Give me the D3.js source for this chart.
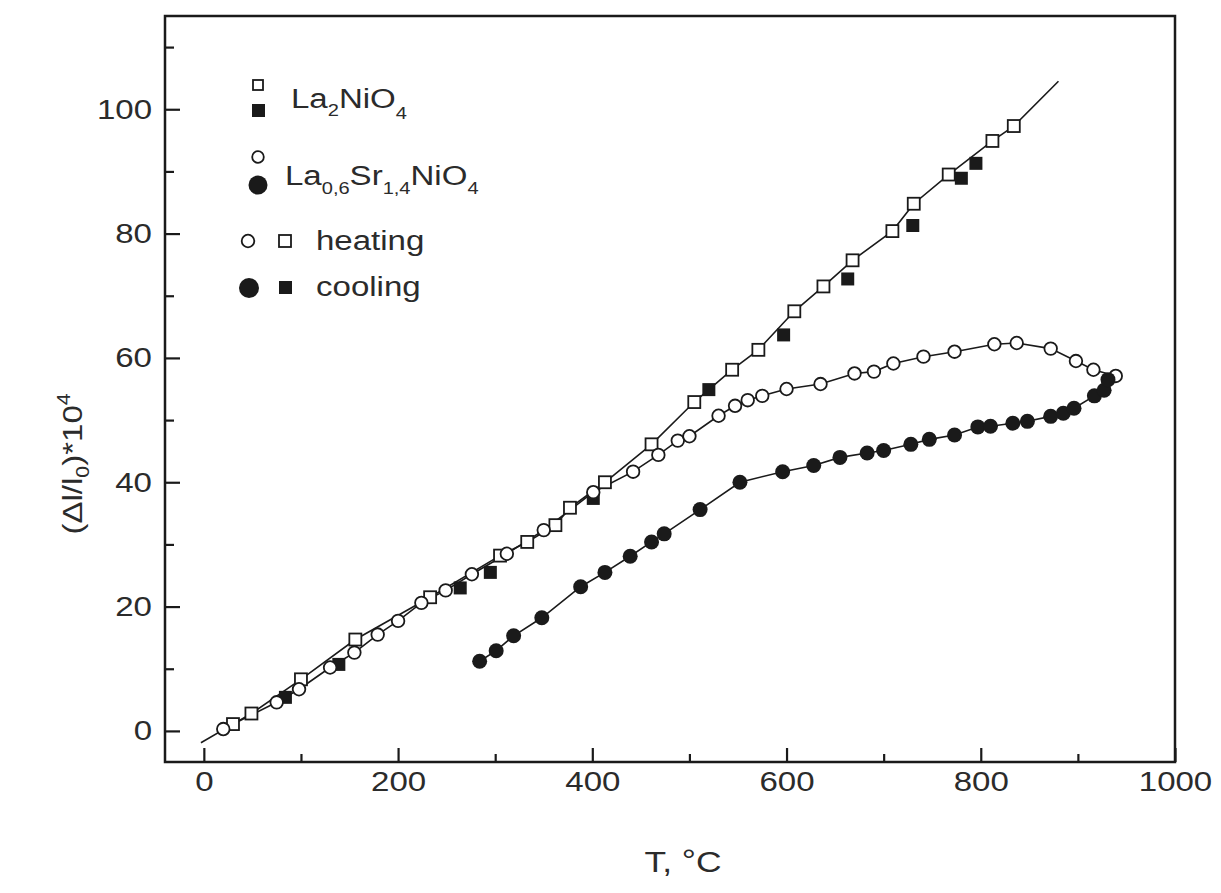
<!DOCTYPE html>
<html><head><meta charset="utf-8">
<script src="https://cdn.jsdelivr.net/npm/d3@7"></script>
<style>
html,body{margin:0;padding:0;background:#fff;}
text{font-family:"Liberation Sans",Arial,sans-serif;fill:#2b2b2b;}
</style></head>
<body><svg id="chart" width="1221" height="893"></svg>
<script>
// La2NiO4 heating (open squares)
const la2HeatT = [30, 49, 100, 156, 233, 305, 333, 362, 377, 413, 461, 505, 544, 571, 608, 638, 668, 709, 731, 767, 812, 834];
const la2HeatV = [1.1, 2.8, 8.3, 14.7, 21.5, 28.2, 30.4, 33.1, 35.9, 40.0, 46.1, 52.9, 58.1, 61.3, 67.5, 71.5, 75.7, 80.4, 84.8, 89.5, 94.9, 97.3];
// La2NiO4 cooling (filled squares)
const la2CoolT = [84, 139, 264, 295, 401, 520, 597, 663, 730, 780, 795];
const la2CoolV = [5.4, 10.7, 23.0, 25.5, 37.4, 54.9, 63.7, 72.7, 81.3, 88.9, 91.3];
// La2NiO4 fit line end points
const la2LineStart = [-3, -1.9];
const la2LineEnd = [880, 104.5];
// La0.6Sr1.4NiO4 heating (open circles)
const lsnHeatT = [20, 75, 98, 130, 155, 179, 200, 224, 249, 276, 312, 350, 401, 442, 468, 488, 500, 530, 547, 560, 575, 600, 635, 670, 690, 710, 741, 773, 814, 837, 872, 898, 916, 939];
const lsnHeatV = [0.3, 4.6, 6.7, 10.2, 12.6, 15.5, 17.7, 20.6, 22.6, 25.2, 28.5, 32.3, 38.4, 41.7, 44.4, 46.7, 47.4, 50.7, 52.3, 53.2, 53.9, 55.0, 55.8, 57.5, 57.8, 59.1, 60.2, 61.0, 62.2, 62.4, 61.5, 59.5, 58.1, 57.1];
// La0.6Sr1.4NiO4 cooling (filled circles)
const lsnCoolT = [284, 301, 319, 348, 388, 413, 439, 461, 474, 511, 552, 596, 628, 655, 683, 700, 728, 747, 773, 797, 810, 833, 848, 872, 885, 896, 917, 927, 931];
const lsnCoolV = [11.2, 12.9, 15.3, 18.2, 23.2, 25.5, 28.1, 30.4, 31.7, 35.6, 40.0, 41.7, 42.7, 44.0, 44.7, 45.1, 46.1, 46.9, 47.6, 48.9, 49.0, 49.5, 49.8, 50.6, 51.1, 51.9, 53.9, 54.8, 56.5];
// ticks
const xTicksMajor = [0, 200, 400, 600, 800, 1000];
const xTicksMinor = [100, 300, 500, 700, 900];
const yTicksMajor = [0, 20, 40, 60, 80, 100];
const yTicksMinor = [10, 30, 50, 70, 90, 110];

const svg = d3.select("#chart");
const L = 165, R = 1175, T = 16, B = 762;
const x = d3.scaleLinear().domain([-40, 1000]).range([L, R]);
const y = d3.scaleLinear().domain([-5, 115]).range([B, T]);
const ink = "#1a1a1a";
const SX = 1.18; // horizontal glyph stretch seen in the reference

function stretch(sel) {
  sel.each(function () {
    const t = d3.select(this);
    const tx = +t.attr("x") || 0, ty = +t.attr("y") || 0;
    t.attr("x", tx / SX).attr("y", ty).attr("transform", `scale(${SX},1)`);
  });
}

const zip = (a, b) => a.map((v, i) => [v, b[i]]);
const la2Heat = zip(la2HeatT, la2HeatV);
const la2Cool = zip(la2CoolT, la2CoolV);
const lsnHeat = zip(lsnHeatT, lsnHeatV);
const lsnCool = zip(lsnCoolT, lsnCoolV);

const line = d3.line().x(d => x(d[0])).y(d => y(d[1]));
const g = svg.append("g");
g.append("path").datum([la2LineStart, ...la2Heat, la2LineEnd])
  .attr("d", line).attr("fill", "none").attr("stroke", ink).attr("stroke-width", 1.6);
g.append("path").datum(lsnHeat)
  .attr("d", line).attr("fill", "none").attr("stroke", ink).attr("stroke-width", 1.6);
g.append("path").datum(lsnCool)
  .attr("d", line).attr("fill", "none").attr("stroke", ink).attr("stroke-width", 1.6);

const sq = 12;
g.selectAll(".sqo").data(la2Heat).enter().append("rect")
  .attr("x", d => x(d[0]) - sq/2).attr("y", d => y(d[1]) - sq/2)
  .attr("width", sq).attr("height", sq)
  .attr("fill", "#fff").attr("stroke", ink).attr("stroke-width", 1.8);
g.selectAll(".sqf").data(la2Cool).enter().append("rect")
  .attr("x", d => x(d[0]) - 6.5).attr("y", d => y(d[1]) - 6.5)
  .attr("width", 13).attr("height", 13)
  .attr("fill", ink);
g.selectAll(".co").data(lsnHeat).enter().append("circle")
  .attr("cx", d => x(d[0])).attr("cy", d => y(d[1])).attr("r", 6.3)
  .attr("fill", "#fff").attr("stroke", ink).attr("stroke-width", 1.8);
g.selectAll(".cf").data(lsnCool).enter().append("circle")
  .attr("cx", d => x(d[0])).attr("cy", d => y(d[1])).attr("r", 7.5)
  .attr("fill", ink);

// frame
svg.append("rect").attr("x", L).attr("y", T).attr("width", R - L).attr("height", B - T)
  .attr("fill", "none").attr("stroke", ink).attr("stroke-width", 2.5);

// axes with inward ticks
const xAxis = svg.append("g").attr("transform", `translate(0,${B})`)
  .call(d3.axisBottom(x).tickValues(xTicksMajor).tickSize(-14).tickPadding(9).tickFormat(d3.format("d")));
const xMinor = svg.append("g").attr("transform", `translate(0,${B})`)
  .call(d3.axisBottom(x).tickValues(xTicksMinor).tickSize(-8).tickFormat(""));
const yAxis = svg.append("g").attr("transform", `translate(${L},0)`)
  .call(d3.axisLeft(y).tickValues(yTicksMajor).tickSize(-15).tickPadding(13).tickFormat(d3.format("d")));
const yMinor = svg.append("g").attr("transform", `translate(${L},0)`)
  .call(d3.axisLeft(y).tickValues(yTicksMinor).tickSize(-9).tickFormat(""));
[xAxis, xMinor, yAxis, yMinor].forEach(a => {
  a.select(".domain").remove();
  a.selectAll(".tick line").attr("stroke", ink).attr("stroke-width", 2.2);
  a.selectAll(".tick text").style("font-size", "28px").attr("fill", "#2b2b2b")
    .style("font-family", "'Liberation Sans', Arial, sans-serif");
});
stretch(xAxis.selectAll(".tick text"));
stretch(yAxis.selectAll(".tick text"));

// axis titles
const xt = svg.append("text").attr("x", 683).attr("y", 872).attr("text-anchor", "middle")
  .style("font-size", "30px");
xt.append("tspan").text("T, ");
xt.append("tspan").text("°").attr("dy", -2);
xt.append("tspan").text("C").attr("dy", 2);
stretch(xt);

const yt = svg.append("text").attr("transform", `translate(82,464) rotate(-90) scale(${SX},1)`)
  .attr("text-anchor", "middle").style("font-size", "28px");
yt.append("tspan").text("(Δl/l");
yt.append("tspan").text("0").style("font-size", "18px").attr("dy", 7);
yt.append("tspan").text(")*10").attr("dy", -7);
yt.append("tspan").text("4").style("font-size", "18px").attr("dy", -12);

// legend
const lg = svg.append("g");
lg.append("rect").attr("x", 253).attr("y", 80).attr("width", 10).attr("height", 10)
  .attr("fill", "#fff").attr("stroke", ink).attr("stroke-width", 1.8);
lg.append("rect").attr("x", 252).attr("y", 104).attr("width", 13).attr("height", 13).attr("fill", ink);
const t1 = lg.append("text").attr("x", 291).attr("y", 108).style("font-size", "28px");
t1.append("tspan").text("La");
t1.append("tspan").text("2").style("font-size", "17px").attr("dy", 8);
t1.append("tspan").text("NiO").attr("dy", -8);
t1.append("tspan").text("4").style("font-size", "17px").attr("dy", 11);
stretch(t1);

lg.append("circle").attr("cx", 258).attr("cy", 157).attr("r", 5.8)
  .attr("fill", "#fff").attr("stroke", ink).attr("stroke-width", 1.8);
lg.append("circle").attr("cx", 258).attr("cy", 185).attr("r", 9.5).attr("fill", ink);
const t2 = lg.append("text").attr("x", 285).attr("y", 185).style("font-size", "28px");
t2.append("tspan").text("La");
t2.append("tspan").text("0,6").style("font-size", "17px").attr("dy", 9);
t2.append("tspan").text("Sr").attr("dy", -9);
t2.append("tspan").text("1,4").style("font-size", "17px").attr("dy", 9);
t2.append("tspan").text("NiO").attr("dy", -9);
t2.append("tspan").text("4").style("font-size", "17px").attr("dy", 9);
stretch(t2);

lg.append("circle").attr("cx", 248).attr("cy", 241).attr("r", 6.3)
  .attr("fill", "#fff").attr("stroke", ink).attr("stroke-width", 1.8);
lg.append("rect").attr("x", 279).attr("y", 235).attr("width", 12).attr("height", 12)
  .attr("fill", "#fff").attr("stroke", ink).attr("stroke-width", 1.8);
const t3 = lg.append("text").attr("x", 316).attr("y", 250).style("font-size", "28px").text("heating");
stretch(t3);

lg.append("circle").attr("cx", 249).attr("cy", 288).attr("r", 10).attr("fill", ink);
lg.append("rect").attr("x", 279).attr("y", 281).attr("width", 13).attr("height", 13).attr("fill", ink);
const t4 = lg.append("text").attr("x", 316).attr("y", 296).style("font-size", "28px").text("cooling");
stretch(t4);
</script></body></html>
